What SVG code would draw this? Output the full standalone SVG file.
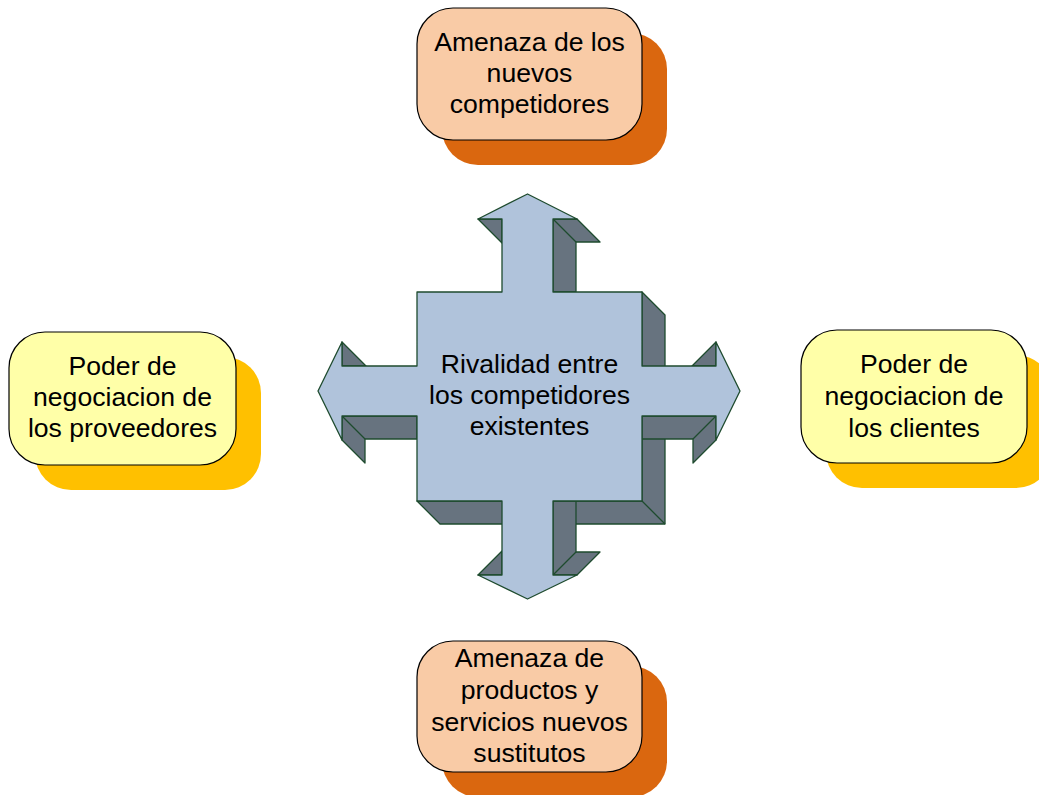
<svg xmlns="http://www.w3.org/2000/svg" width="1039" height="795" viewBox="0 0 1039 795">
<style>
.txt{font-family:"Liberation Sans",Arial,sans-serif;font-size:26.6px;fill:#000;text-anchor:middle}
.box{stroke:#000;stroke-width:1.2}
.orange{fill:#F9CBA6}
.orsh{fill:#DA670F}
.yellow{fill:#FFFFA8}
.yesh{fill:#FFC000}
.face{fill:#67737F;stroke:#1E4B2E;stroke-width:1.3;stroke-linejoin:round}
.front{fill:#B0C3DB;stroke:#1E4B2E;stroke-width:1.3;stroke-linejoin:round}
.edge{stroke:#1E4B2E;stroke-width:1.3;fill:none}
</style>
<rect width="1039" height="795" fill="#fff"/>
<g id="node-top">
<rect class="orsh" x="442" y="33" width="225" height="132" rx="36"/>
<rect class="box orange" x="417" y="8" width="225" height="132" rx="36"/>
<text class="txt" x="529.5" y="51">Amenaza de los</text>
<text class="txt" x="529.5" y="82">nuevos</text>
<text class="txt" x="529.5" y="113">competidores</text>
</g>
<g id="node-left">
<rect class="yesh" x="35" y="357" width="226" height="133" rx="36"/>
<rect class="box yellow" x="9" y="332" width="227" height="133" rx="36"/>
<text class="txt" x="122.5" y="375">Poder de</text>
<text class="txt" x="122.5" y="406">negociacion de</text>
<text class="txt" x="122.5" y="437">los proveedores</text>
</g>
<g id="node-right">
<rect class="yesh" x="826" y="355" width="226" height="133" rx="36"/>
<rect class="box yellow" x="801" y="330" width="226" height="133" rx="36"/>
<text class="txt" x="914" y="373">Poder de</text>
<text class="txt" x="914" y="405">negociacion de</text>
<text class="txt" x="914" y="437">los clientes</text>
</g>
<g id="node-bottom">
<rect class="orsh" x="442" y="666" width="225" height="131" rx="36"/>
<rect class="box orange" x="417" y="641" width="225" height="131" rx="36"/>
<text class="txt" x="529.5" y="667">Amenaza de</text>
<text class="txt" x="529.5" y="699">productos y</text>
<text class="txt" x="529.5" y="731">servicios nuevos</text>
<text class="txt" x="529.5" y="762">sustitutos</text>
</g>
<g id="node-center">
<polygon class="face" points="642,292 665,315 665,524 440,524 417,501 642,501"/>
<line class="edge" x1="642" y1="501" x2="665" y2="524"/>
<polygon class="face" points="478,219 502,219 502,243"/>
<polygon class="face" points="553,219 577,219 600,242 576,242 576,292 553,292"/>
<line class="edge" x1="553" y1="219" x2="576" y2="242"/>
<polygon class="face" points="342,342 342,366 366,366"/>
<polygon class="face" points="342,416 417,416 417,439 365,439 365,463 342,440"/>
<line class="edge" x1="342" y1="416" x2="365" y2="439"/>
<polygon class="face" points="716,342 716,366 692,366"/>
<polygon class="face" points="642,416 716,416 716,440 693,463 693,439 642,439"/>
<line class="edge" x1="716" y1="416" x2="693" y2="439"/>
<polygon class="face" points="553,501 576,501 576,552 600,552 577,575 553,575"/>
<line class="edge" x1="576" y1="552" x2="553" y2="575"/>
<polygon class="face" points="478,575 502,575 502,551"/>
<polygon class="front" points="417,292 502,292 502,219 478,219 527.5,194 577,219 553,219 553,292 642,292 642,366 716,366 716,342 740,391 716,440 716,416 642,416 642,501 553,501 553,575 577,575 527.5,599 478,575 502,575 502,501 417,501 417,416 342,416 342,440 318,391 342,342 342,366 417,366"/>
<text class="txt" x="529.5" y="373">Rivalidad entre</text>
<text class="txt" x="529.5" y="404">los competidores</text>
<text class="txt" x="529.5" y="435">existentes</text>
</g>
<g id="connectors"></g>
</svg>
